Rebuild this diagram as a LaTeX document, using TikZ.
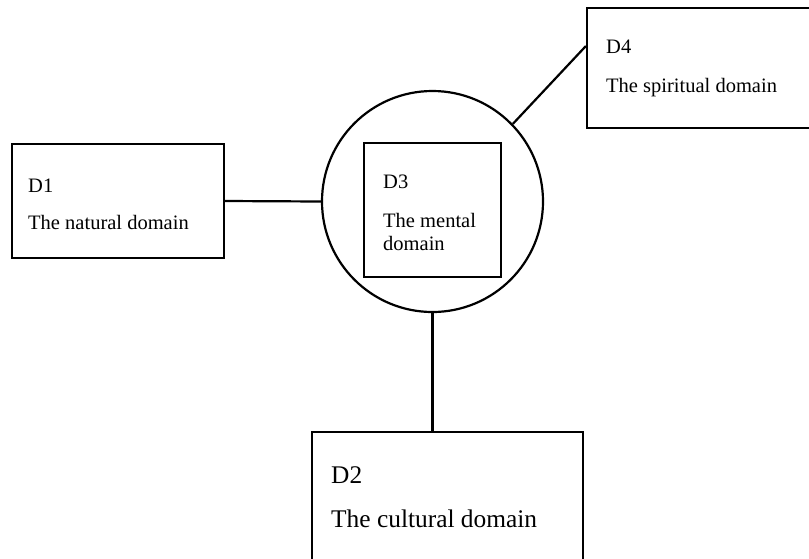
\documentclass[tikz,border=0pt]{standalone}
\usepackage{fontspec}
\setmainfont{Liberation Serif}
\usetikzlibrary{positioning}

\begin{document}
\begin{tikzpicture}[x=1pt, y=-1pt,
    dbox/.style={draw, line width=2.2pt, inner sep=0pt},
    lbl/.style={anchor=base west, inner sep=0pt, align=left,
                font=\fontsize{20.5}{23}\selectfont},
    biglbl/.style={lbl, font=\fontsize{25.4}{30}\selectfont},
    link/.style={line width=2.2pt}
]
\useasboundingbox (0,0) rectangle (809,558);

\node[dbox, minimum width=212pt, minimum height=114pt] (D1) at (118,201) {};
\node[dbox, circle, minimum size=221pt] (mind) at (432.5,201.5) {};
\node[dbox, minimum width=137pt, minimum height=134pt] (D3) at (432.5,210) {};
\node[dbox, minimum width=243pt, minimum height=120pt] (D4) at (708.5,68) {};
\node[dbox, minimum width=271pt, minimum height=148pt] (D2) at (447.5,506) {};

% texts
\node[lbl] (D1a) at (28,192)  {D1};
\node[lbl] (D1b) at (28,229)  {The natural domain};
\node[lbl] (D3a) at (383,188) {D3};
\node[lbl] (D3b) at (383,250) {The mental\\domain};
\node[lbl] (D4a) at (606,53)  {D4};
\node[lbl] (D4b) at (606,92)  {The spiritual domain};
\node[biglbl] (D2a) at (331,483) {D2};
\node[biglbl] (D2b) at (331,527) {The cultural domain};

% links
\draw[link] (D1.east) -- (mind.west);
\draw[link] (mind.44) -- ([yshift=22pt]D4.west);
\draw[link] (mind.south) -- (mind.south |- D2.north);
\end{tikzpicture}
\end{document}
